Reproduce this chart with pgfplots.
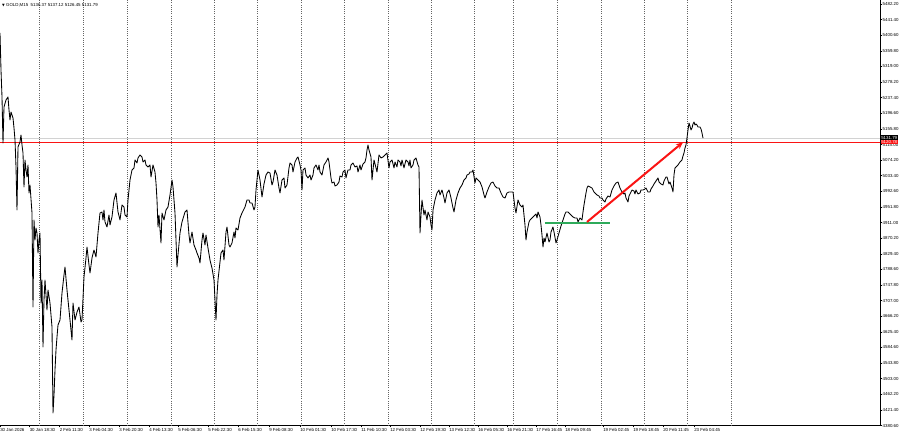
\documentclass[border=0pt]{standalone}
\usepackage{pgfplots}
\pgfplotsset{compat=1.18}
\usepackage{fontspec}
\setmainfont{Liberation Sans}
\newfontfamily\symfont{DejaVu Sans}
\usetikzlibrary{arrows.meta}
\definecolor{mtgreen}{RGB}{46,170,90}
\definecolor{mtred}{RGB}{250,20,20}
\definecolor{mtgrid}{RGB}{100,100,100}
\newcommand{\tinyf}{\fontsize{4.4}{5}\selectfont}
\begin{document}
\begin{tikzpicture}
\useasboundingbox (0,-11.5bp) rectangle (900bp,425.5bp);
\begin{axis}[
  at={(0,0)}, anchor=south west,
  scale only axis, width=880bp, height=425.5bp,
  xmin=0, xmax=880, ymin=4380.6, ymax=5492.65,
  axis x line=bottom, axis y line=right,
  axis line style={-, black, line width=0.6bp},
  every outer x axis line/.append style={-},
  every outer y axis line/.append style={-},
  tick align=outside, major tick length=2bp,
  tick style={black, line width=0.5bp},
  xtick={0,29.5,59.5,89,119,149,178,208,238,269,300,331,361,390,420,449,478,507,536,565,603,633,663,694},
  xticklabels={30 Jan 2026,30 Jan 18:30,2 Feb 11:30,3 Feb 04:30,3 Feb 20:30,4 Feb 13:30,5 Feb 06:30,5 Feb 22:30,6 Feb 15:30,9 Feb 08:30,10 Feb 01:30,10 Feb 17:30,11 Feb 10:30,12 Feb 03:30,12 Feb 19:30,13 Feb 12:30,16 Feb 05:30,16 Feb 21:30,17 Feb 16:45,18 Feb 09:45,19 Feb 02:45,19 Feb 18:45,20 Feb 11:45,23 Feb 04:45},
  xticklabel style={anchor=north west, inner sep=0.4bp, font=\tinyf, xshift=-0.3bp},
  ytick={4380.6,4421.4,4462.2,4503.0,4543.8,4584.6,4625.4,4666.2,4707.0,4747.8,4788.6,4829.4,4870.2,4911.0,4951.8,4992.6,5033.4,5074.2,5115.0,5155.8,5196.6,5237.4,5278.2,5319.0,5359.8,5400.6,5441.4,5482.2},
  yticklabels={4380.60,4421.40,4462.20,4503.00,4543.80,4584.60,4625.40,4666.20,4707.00,4747.80,4788.60,4829.40,4870.20,4911.00,4951.80,4992.60,5033.40,5074.20,5115.00,5155.80,5196.60,5237.40,5278.20,5319.00,5359.80,5400.60,5441.40,5482.20},
  yticklabel style={anchor=west, inner sep=0.5bp, font=\tinyf},
  extra x ticks={39,83,127,171,214,257,301,344,388,431,474,513,557,601,644,687,731},
  extra x tick labels={},
  extra x tick style={major tick length=0pt, grid=major,
    major grid style={mtgrid, line width=0.5bp, dash pattern=on 0.7bp off 1.5bp}},
  clip=false,
]
% current price line (light gray) and red horizontal level
\addplot[gray!35, line width=0.6bp] coordinates {(0,5131.79) (880,5131.79)};
\addplot[mtred, line width=1bp] coordinates {(0,5120.78) (880,5120.78)};
% GOLD M15 close prices
\addplot[black, line width=0.85bp, line join=round] coordinates {
(0,5406.4)(1,5309.7)(2,5239.2)(3,5119.0)(4,5213.0)(6,5231.3)(8,5239.2)(9,5205.2)(10,5179.0)(11,5199.9)
(13,5184.3)(14,5158.1)(15,5126.8)(16,5056.3)(17,4943.8)(18,5108.6)(20,5121.6)(21,5139.9)(22,5113.8)(23,5092.8)
(24,5004.0)(25,5074.5)(26,5048.4)(27,5030.1)(28,5061.5)(29,4988.3)(30,5009.2)(32,4936.0)(33,4690.3)(34,4917.7)
(35,4865.4)(36,4896.8)(37,4883.7)(38,4831.4)(39,4865.4)(40,4883.7)(41,4700.8)(42,4760.9)(43,4585.8)(44,4708.6)
(45,4760.9)(46,4721.7)(47,4682.5)(48,4734.7)(50,4700.8)(51,4669.4)(52,4638.0)(53,4413.3)(54,4460.3)(55,4525.7)
(56,4577.9)(57,4611.9)(58,4643.3)(60,4656.3)
(62,4726.9)(64,4774.0)(65,4794.9)(67,4734.7)(69,4682.5)(71,4630.2)(72,4604.1)(73,4700.8)(75,4656.3)(77,4677.2)
(79,4690.3)(81,4651.1)(82,4656.3)(84,4768.7)(86,4818.4)(87,4847.1)(89,4800.1)(90,4779.2)(92,4818.4)(94,4839.3)
(96,4821.0)(98,4883.7)(100,4936.0)(102,4938.6)(103,4917.7)(104,4943.8)(105,4912.5)(107,4899.4)(109,4930.8)(110,4904.6)
(112,4925.6)(114,4970.0)(116,4988.3)(118,4938.6)(120,4917.7)(122,4956.9)(124,4951.7)(125,4930.8)(127,4925.6)(128,4970.0)
(130,5022.2)(132,5048.4)(134,5053.7)(135,5074.5)(137,5066.7)(138,5079.8)(140,5087.6)(142,5082.4)(143,5069.3)(145,5074.5)
(146,5061.5)(148,5056.3)(150,5061.5)(151,5030.1)(153,5061.5)(155,5043.1)(156,5014.4)(157,4970.0)(158,4899.4)(159,4930.8)
(161,4857.6)(162,4936.0)(164,4917.7)(166,4943.8)(168,4951.7)(170,4983.1)(172,5022.2)(173,5004.0)(175,4936.0)(177,4794.9)
(178,4826.2)(180,4883.7)
(182,4912.5)(185,4938.6)(187,4943.8)(189,4878.5)(190,4857.6)(192,4886.3)(194,4852.3)(196,4839.3)(197,4831.4)(199,4818.4)
(200,4805.3)(202,4865.4)(203,4883.7)(205,4852.3)(206,4878.5)(208,4844.5)(210,4813.1)(212,4792.2)(214,4760.9)(215,4708.6)
(216,4656.3)(217,4721.7)(218,4760.9)(220,4807.9)(221,4831.4)(223,4839.3)(224,4813.1)(226,4886.3)(227,4899.4)(229,4852.3)
(230,4847.1)(232,4857.6)(234,4886.3)(235,4870.7)(236,4896.8)(238,4891.6)(240,4922.9)(242,4936.0)(245,4951.7)(247,4970.0)
(249,4970.0)(250,4962.1)(252,4962.1)(254,4943.8)(255,4951.7)(256,4996.1)(258,5048.4)(260,5022.2)(262,4977.8)(264,5011.8)
(266,5035.3)(268,5043.1)(270,5040.5)(272,5009.2)(273,5017.0)(275,5048.4)(277,5035.3)(279,5001.3)(280,4988.3)(282,5022.2)
(284,5027.5)(285,5001.3)(287,5009.2)(289,5053.7)(290,5066.7)(292,5061.5)(293,5043.1)(295,5069.3)(297,5079.8)(298,5082.4)
(300,5061.5)(301,5048.4)(302,4996.1)(303,5048.4)(305,5053.7)(306,5035.3)(308,5027.5)(310,5035.3)(311,5022.2)(313,5035.3)
(314,5053.7)(316,5061.5)(318,5048.4)(319,5061.5)(320,5043.1)(322,5035.3)(324,5061.5)(326,5069.3)(328,5079.8)(329,5069.3)
(331,5027.5)(332,5014.4)(334,5017.0)(335,5006.6)(337,5009.2)(339,5017.0)(340,5032.7)(342,5030.1)(343,5043.1)(345,5048.4)
(346,5027.5)(348,5048.4)(350,5048.4)(351,5061.5)(353,5066.7)(355,5056.3)
(357,5058.9)(358,5043.1)(360,5061.5)(361,5048.4)(363,5064.1)(365,5069.3)(366,5079.8)(367,5100.6)(368,5113.8)(369,5100.6)
(371,5082.4)(372,5022.2)(374,5074.5)(376,5053.7)(377,5043.1)(379,5087.6)(381,5079.8)(383,5082.4)(385,5087.6)(387,5092.8)
(389,5053.7)(390,5069.3)(392,5074.5)(394,5053.7)(395,5069.3)(397,5056.3)(398,5074.5)(400,5069.3)(401,5058.9)(402,5074.5)
(404,5053.7)(406,5074.5)(408,5069.3)(409,5058.9)(410,5074.5)(411,5053.7)(413,5061.5)(414,5074.5)(416,5079.8)(418,5061.5)
(419,5056.3)(420,4883.7)(421,4930.8)(422,4970.0)(424,4930.8)(425,4943.8)(427,4917.7)(428,4938.6)(430,4925.6)(431,4904.6)
(432,4891.6)(433,4943.8)(435,4970.0)(437,4988.3)(439,4996.1)(440,4983.1)(442,4996.1)(444,4975.2)(445,4962.1)(447,4988.3)
(449,4996.1)(451,4975.2)(453,4949.1)(454,4938.6)(456,4970.0)(458,4988.3)(460,5001.3)(462,5009.2)(464,5022.2)(466,5027.5)
(467,5035.3)(469,5037.9)(470,5043.1)(472,5043.1)(473,5048.4)(475,5014.4)(476,5027.5)(478,5022.2)(480,5017.0)(482,5004.0)
(484,4983.1)(485,4975.2)(487,4990.9)(489,5004.0)(491,5014.4)(493,5017.0)(495,5006.6)(497,5001.3)(499,5001.3)(501,4988.3)
(503,4977.8)(505,4975.2)(507,4988.3)(509,4990.9)(511,4990.9)(513,4990.9)(515,4949.1)(516,4936.0)(518,4970.0)(520,4956.9)
(522,4951.7)(523,4956.9)(525,4904.6)(526,4865.4)(527,4886.3)(529,4912.5)(530,4917.7)(532,4922.9)(534,4928.2)(536,4933.4)
(537,4922.9)(538,4938.6)(540,4925.6)(541,4904.6)(542,4878.5)(543,4847.1)(544,4870.7)(545,4860.2)(547,4883.7)
(549,4860.2)(550,4865.4)(551,4886.3)(553,4899.4)(554,4886.3)(556,4857.6)(557,4865.4)(559,4883.7)(561,4902.0)(563,4917.7)
(565,4933.4)(566,4938.6)(568,4938.6)(570,4933.4)(572,4928.2)(573,4925.6)(575,4922.9)(577,4922.9)(578,4912.5)(580,4922.9)
(582,4917.7)(583,4938.6)(584,4956.9)(586,4988.3)(587,5001.3)(588,5006.6)(590,5004.0)(592,5001.3)(594,4990.9)(596,4985.7)
(597,4983.1)(599,4980.4)(600,4975.2)(602,4975.2)(603,4970.0)(605,4964.7)(606,4972.6)(608,4980.4)(610,4977.8)(612,4996.1)
(614,5006.6)(616,5014.4)(618,5017.0)(620,5001.3)(622,4990.9)(624,4985.7)(625,4988.3)(626,4975.2)(628,4964.7)(629,4980.4)
(631,4990.9)(632,4996.1)(634,4993.5)(635,4985.7)(636,4996.1)(638,4985.7)(640,4988.3)(641,4996.1)(643,4996.1)(645,4998.7)
(646,5001.3)(648,4990.9)(650,4990.9)(651,4998.7)(653,5006.6)(654,5011.8)(656,5019.6)(658,5027.5)(659,5017.0)(661,5011.8)
(663,5009.2)(664,5019.6)(666,5030.1)(667,5030.1)(669,5011.8)(670,5017.0)(672,5001.3)(673,4990.9)(674,5035.3)(675,5053.7)
(677,5058.9)(678,5061.5)(680,5069.3)(682,5074.5)(683,5085.0)(684,5092.8)(685,5105.9)(686,5113.8)(687,5132.0)(688,5152.9)
(689,5171.2)(690,5163.3)(691,5152.9)(692,5158.1)(693,5168.6)(694,5173.8)(695,5166.0)(696,5168.6)(697,5166.0)(698,5160.7)
(700,5160.7)(701,5155.5)(702,5145.1)(703,5131.8)
};
% green support level
\addplot[mtgreen, line width=2.6bp] coordinates {(545,4909.9) (610,4909.9)};
% red arrow
\addplot[mtred, line width=2bp, -{Stealth[length=7bp,width=6bp]}] coordinates {(587,4912.5) (683,5120.78)};
\coordinate (redlab) at (axis cs:880,5120.78);
\coordinate (ttl) at (rel axis cs:0,1);
\end{axis}
\node[anchor=west, fill=mtred, text=white, inner sep=0.6bp, font=\tinyf] (rl) at ([xshift=0.5bp]redlab) {5120.78};
\node[anchor=south west, fill=black, text=white, inner sep=0.6bp, font=\tinyf] at (rl.north west) {5131.79};
\node[anchor=north west, inner sep=0pt, font=\tinyf] at ([xshift=2bp,yshift=-3bp]ttl) {{\symfont\fontsize{3.5}{4}\selectfont ▼}\ GOLD,M15\ \ 5136.37 5137.12 5126.45 5131.79};
\end{tikzpicture}
\end{document}
